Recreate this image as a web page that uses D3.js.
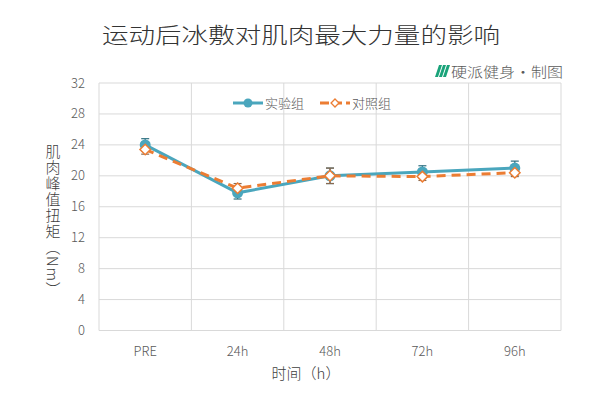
<!doctype html>
<html lang="zh">
  <head>
    <meta charset="UTF-8" />
    <title>运动后冰敷对肌肉最大力量的影响</title>
    <style>
      body { margin: 0; background: #fff; }
      svg text { font-family: "Noto Sans CJK SC", "Noto Sans", sans-serif; font-weight: 300; }
    </style>
  </head>
  <body>
    <div id="chart"></div>
    <script src="https://cdn.jsdelivr.net/npm/d3@7"></script>
    <script>
      const categories = ["PRE", "24h", "48h", "72h", "96h"];
      const yTicks = [0, 4, 8, 12, 16, 20, 24, 28, 32];
      const expValues = [24.0, 17.8, 20.0, 20.5, 21.0];
      const expErrors = [0.8, 0.8, 1.0, 0.8, 0.9];
      const ctrlValues = [23.4, 18.4, 20.0, 19.9, 20.4];
      const ctrlErrors = [0.6, 0.6, 1.0, 0.5, 0.5];

      const blue = "#4aa6bd", orange = "#ec7d33";
      const width = 600, height = 395;
      const svg = d3.select("#chart").append("svg")
          .attr("width", width).attr("height", height);

      const x = d3.scaleBand().domain(categories).range([99, 561]);
      const y = d3.scaleLinear().domain([0, 32]).range([330.5, 83]);
      const cx = d => x(d) + x.bandwidth() / 2;

      // title + credit
      svg.append("text").attr("x", 102).attr("y", 43)
          .attr("textLength", 398).attr("lengthAdjust", "spacingAndGlyphs")
          .attr("font-size", 22).attr("fill", "#333")
          .text("运动后冰敷对肌肉最大力量的影响");

      const logo = svg.append("g").attr("transform", "translate(436,65)");
      [0, 4, 8].forEach(o => logo.append("path")
          .attr("d", `M${o + 3},0 L${o + 6},0 L${o + 2},12 L${o - 1},12 Z`)
          .attr("fill", "#1aa37a"));
      svg.append("text").attr("x", 451).attr("y", 77)
          .attr("textLength", 112).attr("lengthAdjust", "spacingAndGlyphs")
          .attr("font-size", 14).attr("fill", "#595959")
          .text("硬派健身·制图");

      // grid
      svg.append("g").selectAll("line").data(yTicks).join("line")
          .attr("x1", 99).attr("x2", 561)
          .attr("y1", d => y(d)).attr("y2", d => y(d))
          .attr("stroke", "#d9d9d9").attr("stroke-width", 1);
      svg.append("g").selectAll("line").data(categories.concat(["end"])).join("line")
          .attr("x1", (d, i) => 99 + i * x.bandwidth()).attr("x2", (d, i) => 99 + i * x.bandwidth())
          .attr("y1", y(32)).attr("y2", y(0))
          .attr("stroke", "#d9d9d9").attr("stroke-width", 1);

      // axes labels
      svg.append("g").selectAll("text").data(yTicks).join("text")
          .attr("x", 85).attr("y", d => y(d) + 4.5)
          .attr("text-anchor", "end").attr("font-size", 13).attr("fill", "#595959")
          .text(d => d);
      svg.append("g").selectAll("text").data(categories).join("text")
          .attr("x", d => cx(d)).attr("y", 356)
          .attr("text-anchor", "middle").attr("font-size", 13).attr("fill", "#595959")
          .text(d => d);
      svg.append("text").attr("x", 306).attr("y", 379)
          .attr("text-anchor", "middle").attr("font-size", 15).attr("fill", "#404040")
          .text("时间（h）");
      svg.append("text").attr("x", 53).attr("y", 144)
          .style("writing-mode", "vertical-rl").style("letter-spacing", "1px")
          .attr("font-size", 15).attr("fill", "#404040")
          .text("肌肉峰值扭矩（Nm）");

      const line = d3.line().x((d, i) => cx(categories[i])).y(d => y(d));

      const drawErrors = (vals, errs, color) => {
          const g = svg.append("g").attr("stroke", color).attr("stroke-width", 1.2);
          vals.forEach((v, i) => {
              const px = cx(categories[i]);
              g.append("line").attr("x1", px).attr("x2", px).attr("y1", y(v - errs[i])).attr("y2", y(v + errs[i]));
              [v - errs[i], v + errs[i]].forEach(e => g.append("line")
                  .attr("x1", px - 4).attr("x2", px + 4).attr("y1", y(e)).attr("y2", y(e)));
          });
      };

      drawErrors(expValues, expErrors, "#2f6f80");
      drawErrors(ctrlValues, ctrlErrors, "#8a6a50");

      // experimental series
      svg.append("path").datum(expValues).attr("d", line)
          .attr("fill", "none").attr("stroke", blue).attr("stroke-width", 3);
      svg.append("g").selectAll("circle").data(expValues).join("circle")
          .attr("cx", (d, i) => cx(categories[i])).attr("cy", d => y(d)).attr("r", 5.5)
          .attr("fill", blue);

      // control series
      const diamond = d3.symbol().type(d3.symbolDiamond2).size(70);
      svg.append("path").datum(ctrlValues).attr("d", line)
          .attr("fill", "none").attr("stroke", orange).attr("stroke-width", 3)
          .attr("stroke-dasharray", "9,6");
      svg.append("g").selectAll("path").data(ctrlValues).join("path")
          .attr("d", diamond)
          .attr("transform", (d, i) => `translate(${cx(categories[i])},${y(d)})`)
          .attr("fill", "#fff").attr("stroke", orange).attr("stroke-width", 1.5);

      // legend
      const lg = svg.append("g").attr("transform", "translate(0,103)");
      lg.append("line").attr("x1", 233).attr("x2", 263).attr("stroke", blue).attr("stroke-width", 3);
      lg.append("circle").attr("cx", 248).attr("r", 4.5).attr("fill", blue);
      lg.append("text").attr("x", 265).attr("y", 5).attr("font-size", 13).attr("fill", "#595959").text("实验组");
      lg.append("line").attr("x1", 320).attr("x2", 350).attr("stroke", orange).attr("stroke-width", 3)
          .attr("stroke-dasharray", "9,4");
      lg.append("path").attr("d", d3.symbol().type(d3.symbolDiamond2).size(40))
          .attr("transform", "translate(335,0)")
          .attr("fill", "#fff").attr("stroke", orange).attr("stroke-width", 1.3);
      lg.append("text").attr("x", 352).attr("y", 5).attr("font-size", 13).attr("fill", "#595959").text("对照组");
    </script>
  </body>
</html>
